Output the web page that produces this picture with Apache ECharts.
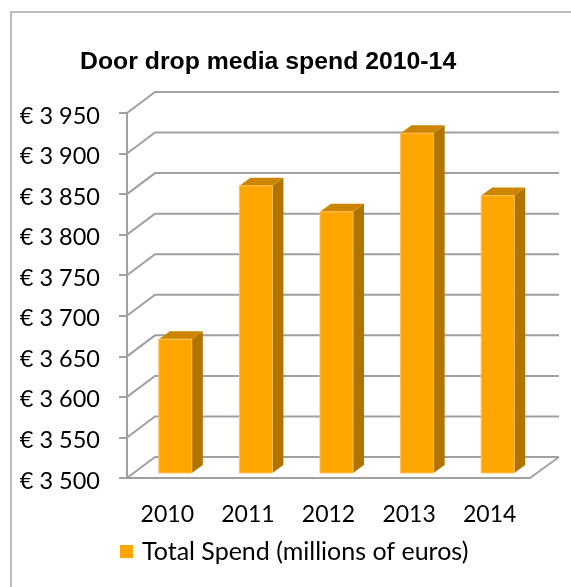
<!DOCTYPE html>
<html>
<head>
<meta charset="utf-8">
<script src="https://cdn.jsdelivr.net/npm/echarts@6/dist/echarts.min.js"></script>
<style>
  html, body { margin: 0; padding: 0; background: #fff; }
  #chart { width: 571px; height: 587px; }
</style>
</head>
<body>
<div id="chart"></div>
<script>
// categories and values
const years = ['2010', '2011', '2012', '2013', '2014'];
const spend = [3665, 3854, 3822, 3919, 3842];
const yTicks = [3500, 3550, 3600, 3650, 3700, 3750, 3800, 3850, 3900, 3950];
const seriesName = 'Total Spend (millions of euros)';

const yMin = yTicks[0];
const yMax = yTicks[yTicks.length - 1];
const gridColor = '#a0a0a0';
// depth of the 3d wall
const depthX = 28, depthY = -21;

function euro(v) {
  return '€ ' + String(v).replace(/\B(?=(\d{3})+$)/, ' ');
}

let myChart = echarts.init(document.getElementById('chart'));

myChart.setOption({
  animation: false,
  title: {
    text: 'Door drop media spend 2010-14',
    left: 80,
    top: 50,
    padding: 0,
    textStyle: { fontFamily: 'Liberation Sans', fontWeight: 'bold', fontSize: 24.8, color: '#000' }
  },
  legend: {
    data: [seriesName],
    left: 120,
    top: 539,
    padding: 0,
    itemWidth: 13,
    itemHeight: 13,
    icon: 'rect',
    textStyle: { fontFamily: 'Lato', fontSize: 25, color: '#000', padding: [0, 0, 0, 4] }
  },
  graphic: [{
    type: 'rect',
    shape: { x: 11, y: 12, width: 700, height: 700 },
    style: { fill: 'none', stroke: '#a6a6a6', lineWidth: 1.5 },
    silent: true
  }],
  grid: { left: 127, right: 41, top: 113, bottom: 109 },
  xAxis: {
    type: 'category',
    data: years,
    axisLine: { lineStyle: { color: gridColor, width: 2 } },
    axisTick: { length: 8, lineStyle: { color: gridColor, width: 2 } },
    axisLabel: { margin: 25, fontFamily: 'Lato', fontSize: 23, color: '#000' },
    splitLine: { show: false }
  },
  yAxis: {
    type: 'value',
    min: yMin,
    max: yMax,
    interval: 50,
    axisLine: { show: true, lineStyle: { color: gridColor, width: 2 } },
    axisTick: { show: true, length: 8, lineStyle: { color: gridColor, width: 2 } },
    // labels are drawn with the wall lines below (sit a little under the tick)
    axisLabel: { show: false },
    splitLine: { show: false }
  },
  series: [
    {
      // back wall / floor grid lines + value labels
      type: 'custom',
      silent: true,
      clip: false,
      z: 1,
      data: yTicks.map(v => [0, v]),
      renderItem: function (params, api) {
        const cs = params.coordSys;
        const v = api.value(1);
        const y = api.coord([0, v])[1];
        const x0 = cs.x, x1 = cs.x + cs.width;
        const children = [{
          type: 'polyline',
          shape: { points: [[x0, y], [x0 + depthX, y + depthY], [x1 + depthX + 1, y + depthY]] },
          style: { stroke: gridColor, lineWidth: 2, fill: 'none' }
        }, {
          type: 'text',
          style: {
            text: euro(v), x: x0 - 27, y: y + 3,
            align: 'right', verticalAlign: 'middle',
            fontFamily: 'Lato', fontSize: 23.5, fill: '#000'
          }
        }];
        if (v === yMin) {
          children.push({
            type: 'line',
            shape: { x1: x1, y1: y, x2: x1 + depthX + 1, y2: y + depthY },
            style: { stroke: gridColor, lineWidth: 2 }
          });
        }
        return { type: 'group', children: children };
      }
    },
    {
      name: seriesName,
      type: 'custom',
      clip: false,
      z: 3,
      itemStyle: { color: '#FFA500' },
      data: spend.map((v, i) => [i, v]),
      renderItem: function (params, api) {
        const top = api.coord([api.value(0), api.value(1)]);
        const base = api.coord([api.value(0), yMin]);
        const w = api.size([1, 0])[0] * 0.41;
        const ox = 8, oy = -5, dx = 11, dy = -8;
        const x1 = top[0] + ox - w / 2, x2 = x1 + w;
        const yt = top[1] + oy, yb = base[1] + oy;
        return {
          type: 'group',
          children: [
            {
              type: 'polygon',
              shape: { points: [[x2, yt], [x2 + dx, yt + dy], [x2 + dx, yb + dy], [x2, yb]] },
              style: { fill: '#B07400' }
            },
            {
              type: 'polygon',
              shape: { points: [[x1, yt], [x2, yt], [x2 + dx, yt + dy], [x1 + dx, yt + dy]] },
              style: { fill: '#CC8500' }
            },
            {
              type: 'rect',
              shape: { x: x1, y: yt, width: w, height: yb - yt },
              style: { fill: '#FFA500', stroke: '#FFC15A', lineWidth: 1 }
            }
          ]
        };
      }
    }
  ]
});

window.onresize = function () {
  myChart.resize();
};
</script>
</body>
</html>
